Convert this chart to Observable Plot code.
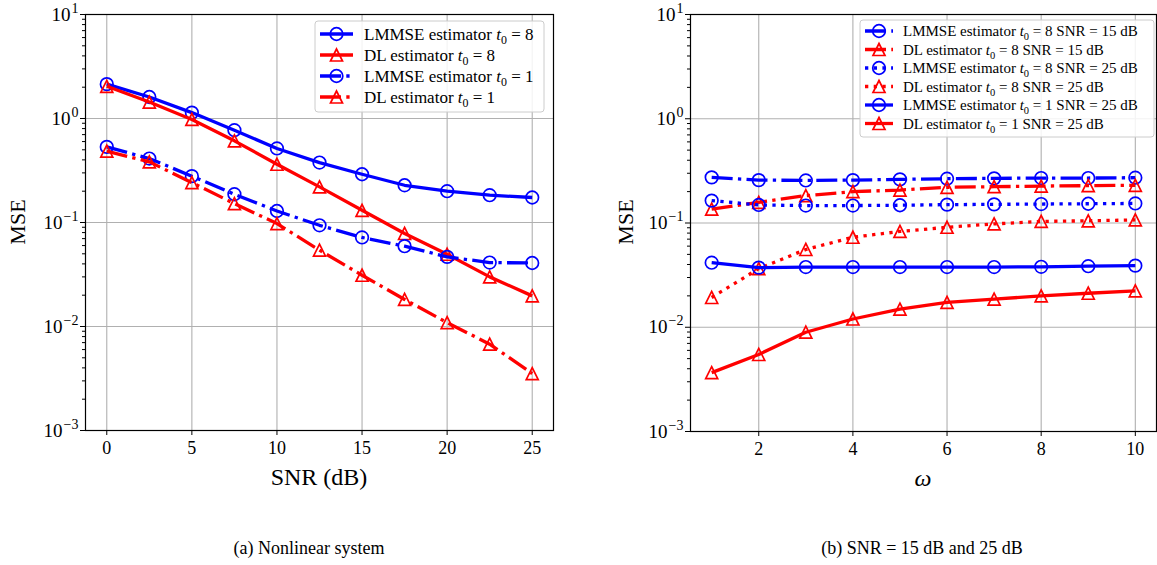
<!DOCTYPE html>
<html><head><meta charset="utf-8">
<script src="https://cdn.jsdelivr.net/npm/d3@7"></script>
<script src="https://cdn.jsdelivr.net/npm/@observablehq/plot@0.6"></script>
<style>
body{margin:0;background:#fff;width:1157px;height:565px;overflow:hidden;position:relative;font-family:"Liberation Serif",serif}
#a,#b{position:absolute;top:0}
#a{left:0px}
#b{left:580px}
.cap{position:absolute;top:538px;font-size:18px;transform:translateX(-50%);white-space:nowrap;color:#000}
</style></head><body>
<div id="a"></div><div id="b"></div>
<div class="cap" style="left:309px">(a) Nonlinear system</div>
<div class="cap" style="left:922px">(b) SNR = 15 dB and 25 dB</div>
<script>
// ---------- data: panel (a) ----------
const snrA = [0, 2.5, 5, 7.5, 10, 12.5, 15, 17.5, 20, 22.5, 25];
const lmmseT8 = [2.14, 1.61, 1.14, 0.772, 0.515, 0.377, 0.291, 0.228, 0.200, 0.183, 0.174];
const dlT8    = [2.04, 1.44, 0.98, 0.61, 0.363, 0.22, 0.131, 0.0784, 0.0495, 0.030, 0.0197];
const lmmseT1 = [0.533, 0.412, 0.279, 0.187, 0.129, 0.094, 0.0718, 0.0592, 0.0467, 0.0412, 0.0408];
const dlT1    = [0.485, 0.383, 0.242, 0.152, 0.0977, 0.0542, 0.0311, 0.0182, 0.0109, 0.00676, 0.00353];
const xTicksA = [0, 5, 10, 15, 20, 25];

// ---------- data: panel (b) ----------
const omega = [1, 2, 3, 4, 5, 6, 7, 8, 9, 10];
const lmmseT8S15 = [0.274, 0.258, 0.256, 0.258, 0.262, 0.266, 0.268, 0.270, 0.270, 0.272];
const dlT8S15    = [0.136, 0.158, 0.183, 0.200, 0.207, 0.220, 0.223, 0.226, 0.228, 0.230];
const lmmseT8S25 = [0.164, 0.149, 0.147, 0.147, 0.148, 0.150, 0.151, 0.152, 0.153, 0.154];
const dlT8S25    = [0.0193, 0.0365, 0.0557, 0.073, 0.083, 0.091, 0.098, 0.1035, 0.105, 0.107];
const lmmseT1S25 = [0.0416, 0.0373, 0.0378, 0.0378, 0.0378, 0.0378, 0.0378, 0.0380, 0.0385, 0.0390];
const dlT1S25    = [0.00367, 0.00548, 0.00896, 0.0120, 0.0149, 0.0173, 0.0186, 0.0200, 0.0212, 0.0223];
const xTicksB = [2, 4, 6, 8, 10];

// ---------- shared ticks ----------
const yExps = [-3, -2, -1, 0, 1];
const yMajor = yExps.map(e => Math.pow(10, e));
const yMinor = [-3, -2, -1, 0].flatMap(e => [2,3,4,5,6,7,8,9].map(m => m * Math.pow(10, e)));

// ---------- series definitions ----------
const seriesA = [
  {est: "LMMSE", t0: 8, snr: null, values: lmmseT8, color: "blue", dash: "solid", marker: "circle"},
  {est: "DL",    t0: 8, snr: null, values: dlT8,    color: "red",  dash: "solid", marker: "tri"},
  {est: "LMMSE", t0: 1, snr: null, values: lmmseT1, color: "blue", dash: "dashdot", marker: "circle"},
  {est: "DL",    t0: 1, snr: null, values: dlT1,    color: "red",  dash: "dashdot", marker: "tri"}
];
const seriesB = [
  {est: "LMMSE", t0: 8, snr: 15, values: lmmseT8S15, color: "blue", dash: "dashdot", marker: "circle"},
  {est: "DL",    t0: 8, snr: 15, values: dlT8S15,    color: "red",  dash: "dashdot", marker: "tri"},
  {est: "LMMSE", t0: 8, snr: 25, values: lmmseT8S25, color: "blue", dash: "dotted", marker: "circle"},
  {est: "DL",    t0: 8, snr: 25, values: dlT8S25,    color: "red",  dash: "dotted", marker: "tri"},
  {est: "LMMSE", t0: 1, snr: 25, values: lmmseT1S25, color: "blue", dash: "solid", marker: "circle"},
  {est: "DL",    t0: 1, snr: 25, values: dlT1S25,    color: "red",  dash: "solid", marker: "tri"}
];

const LW = 3.3;
const DASH = {solid: null, dashdot: "21 5.3 3.3 5.3", dotted: "3.3 5.4"};
const GRID = "#b0b0b0";
const FONT = "Liberation Serif";
const triUp = {draw(ctx, size) { const h = Math.sqrt(size / Math.PI); ctx.moveTo(0, -h); ctx.lineTo(h, h); ctx.lineTo(-h, h); ctx.closePath(); }};

function makePanel({width, height, ml, mr, mt, mb, xDomain, xTicks, xs, series}) {
  const marks = [
    Plot.gridX(xTicks, {stroke: GRID, strokeOpacity: 1, strokeWidth: 1.1}),
    Plot.gridY(yMajor, {stroke: GRID, strokeOpacity: 1, strokeWidth: 1.1})
  ];
  for (const s of series) {
    const data = xs.map((x, i) => ({x, y: s.values[i]}));
    marks.push(Plot.line(data, {x: "x", y: "y", stroke: s.color, strokeWidth: LW,
      strokeDasharray: DASH[s.dash] || undefined, strokeLinecap: "butt", strokeLinejoin: "round"}));
    marks.push(Plot.dot(data, {x: "x", y: "y", r: s.marker === "circle" ? 6.3 : 6,
      symbol: s.marker === "circle" ? "circle" : triUp, stroke: s.color, fill: "none", strokeWidth: 1.7}));
  }
  marks.push(Plot.axisX(xTicks, {tickSize: 5, tickPadding: 6, label: null, tickFormat: d => String(d), fontSize: 18}));
  marks.push(Plot.axisY(yMajor, {tickSize: 5, tickPadding: 2, label: null, fontSize: 19,
    tickFormat: d => "10^" + Math.round(Math.log10(d))}));
  marks.push(Plot.axisY(yMinor, {tickSize: 3, label: null, tickFormat: () => ""}));
  marks.push(Plot.frame({stroke: "black", strokeWidth: 1.2}));
  return Plot.plot({
    width, height, marginLeft: ml, marginRight: mr, marginTop: mt, marginBottom: mb,
    style: {fontFamily: FONT, background: "transparent", color: "black", overflow: "visible"},
    x: {domain: xDomain},
    y: {type: "log", domain: [1e-3, 10]},
    marks
  });
}

function superscripts(svg) {
  d3.select(svg).selectAll("text").each(function() {
    const t = this.textContent;
    if (!t.startsWith("10^")) return;
    const e = t.slice(3).replace("-", "\u2212");
    const sel = d3.select(this);
    sel.text("");
    sel.append("tspan").text("10");
    sel.append("tspan").attr("font-size", 14).attr("dy", -8).attr("dx", 1).text(e);
  });
}

function label(t, sel, fs) {
  t.append("tspan").text(sel.est + " estimator ");
  t.append("tspan").attr("font-style", "italic").text("t");
  t.append("tspan").attr("font-size", fs * 0.7).attr("dy", fs * 0.25).text("0");
  t.append("tspan").attr("dy", -fs * 0.25).text(" = " + sel.t0 + (sel.snr != null ? " SNR = " + sel.snr + " dB" : ""));
}

function legend(svg, {x, y, w, h, x0, x1, tx, y0, dy, fs, series}) {
  const g = d3.select(svg).append("g");
  g.append("rect").attr("x", x).attr("y", y).attr("width", w).attr("height", h)
    .attr("rx", 3).attr("fill", "white").attr("fill-opacity", 0.85).attr("stroke", "#cccccc").attr("stroke-width", 1);
  series.forEach((s, i) => {
    const yy = y0 + i * dy;
    g.append("line").attr("x1", x0).attr("x2", x1).attr("y1", yy).attr("y2", yy)
      .attr("stroke", s.color).attr("stroke-width", LW).attr("stroke-dasharray", DASH[s.dash]);
    const cx = (x0 + x1) / 2;
    if (s.marker === "circle") {
      g.append("circle").attr("cx", cx).attr("cy", yy).attr("r", 6.3).attr("fill", "none").attr("stroke", s.color).attr("stroke-width", 1.7);
    } else {
      g.append("path").attr("d", `M${cx},${yy - 6}L${cx + 6},${yy + 6}L${cx - 6},${yy + 6}Z`).attr("fill", "none").attr("stroke", s.color).attr("stroke-width", 1.7);
    }
    const t = g.append("text").attr("x", tx).attr("y", yy).attr("dy", "0.35em").attr("text-anchor", "start")
      .attr("font-size", fs).attr("font-family", FONT).attr("fill", "black");
    label(t, s, fs);
  });
}

function addText(svg, x, y, txt, fs, rotate, italic) {
  const t = d3.select(svg).append("text").attr("x", x).attr("y", y).attr("text-anchor", "middle")
    .attr("dominant-baseline", "central").attr("font-size", fs).attr("font-family", FONT).attr("fill", "black").text(txt);
  if (rotate) t.attr("transform", `rotate(-90 ${x} ${y})`);
  if (italic) t.attr("font-style", "italic");
}

// ---------- panel (a) ----------
const svgA = makePanel({width: 575, height: 500, ml: 85, mr: 22, mt: 14, mb: 70,
  xDomain: [-1.25, 26.25], xTicks: xTicksA, xs: snrA, series: seriesA});
superscripts(svgA);
legend(svgA, {x: 315, y: 21, w: 229, h: 91, x0: 320, x1: 353, tx: 364, y0: 34, dy: 21, fs: 17, series: seriesA});
addText(svgA, 17, 222, "MSE", 22, true);
addText(svgA, 319, 477, "SNR (dB)", 24);
document.getElementById("a").appendChild(svgA);

// ---------- panel (b) ----------
const svgB = makePanel({width: 577, height: 500, ml: 110, mr: 1, mt: 14, mb: 69,
  xDomain: [0.55, 10.45], xTicks: xTicksB, xs: omega, series: seriesB});
superscripts(svgB);
legend(svgB, {x: 280, y: 20, w: 294, h: 117, x0: 285, x1: 313, tx: 323, y0: 31, dy: 18.5, fs: 15, series: seriesB});
addText(svgB, 45, 222, "MSE", 22, true);
addText(svgB, 343, 478, "\u03c9", 24, false, true);
document.getElementById("b").appendChild(svgB);
</script>
</body></html>
